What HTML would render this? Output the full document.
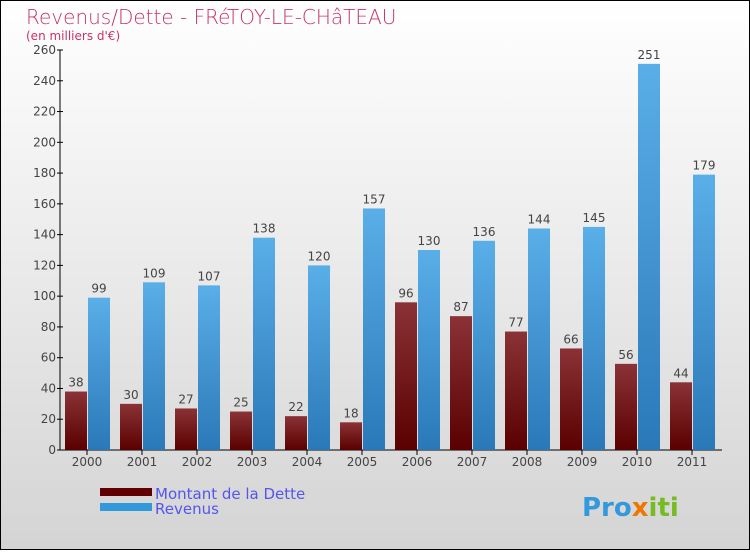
<!DOCTYPE html>
<html><head><meta charset="utf-8"><style>
body{margin:0}
#c{width:750px;height:550px;position:relative;font-family:"DejaVu Sans","Liberation Sans",sans-serif}
</style></head><body>
<div id="c">
<svg width="750" height="550">
<defs>
<linearGradient id="bg" x1="0" y1="0" x2="0" y2="1"><stop offset="0" stop-color="#ffffff"/><stop offset="1" stop-color="#d4d4d4"/></linearGradient>
<linearGradient id="gd" x1="0" y1="0" x2="0" y2="1"><stop offset="0" stop-color="#8a3236"/><stop offset="1" stop-color="#5a0000"/></linearGradient>
<linearGradient id="gr" x1="0" y1="0" x2="0" y2="1"><stop offset="0" stop-color="#5aafe8"/><stop offset="1" stop-color="#2a78b8"/></linearGradient>
</defs>
<rect x="0.5" y="0.5" width="749" height="549" fill="url(#bg)" stroke="#000"/>
<text x="26" y="24" font-size="20" fill="#c8336a" font-family="DejaVu Sans, sans-serif" font-weight="200">Revenus/Dette - FRéTOY-LE-CHâTEAU</text>
<text x="26" y="40" font-size="12" fill="#c8336a">(en milliers d'€)</text>
<g id="axes"></g>
<g id="bars"></g>
<rect x="100" y="488" width="52" height="8" fill="#600000"/>
<rect x="100" y="503" width="52" height="8" fill="#3399dd"/>
<text x="155" y="499" font-size="15" fill="#5555ee">Montant de la Dette</text>
<text x="155" y="514" font-size="15" fill="#5555ee">Revenus</text>
<text x="582" y="516" font-size="26" font-weight="bold" fill="#3399dd"><tspan fill="#3399dd">Pro</tspan><tspan fill="#ee7700">x</tspan><tspan fill="#77bb22">iti</tspan></text>
</svg>
</div>
<script>
const years=["2000","2001","2002","2003","2004","2005","2006","2007","2008","2009","2010","2011"];
const dette=[38,30,27,25,22,18,96,87,77,66,56,44];
const revenus=[99,109,107,138,120,157,130,136,144,145,251,179];
const ticks=[0,20,40,60,80,100,120,140,160,180,200,220,240,260];
const NS="http://www.w3.org/2000/svg";
const y0=450,y1=50,vmax=260;
function y(v){return y0-(v/vmax)*(y0-y1);}
function gx(i){return 65+55*i;}
function mk(t,a,p){const e=document.createElementNS(NS,t);for(const k in a)e.setAttribute(k,a[k]);p.appendChild(e);return e;}
const ax=document.getElementById('axes'),bg=document.getElementById('bars');
let l=mk('line',{x1:60,y1:y1,x2:60,y2:y0,stroke:'#000'},ax);


l=mk('line',{x1:60,y1:y0,x2:722,y2:y0,stroke:'#000'},ax);


ticks.forEach(t=>{
 const tk=mk('line',{x1:57,x2:63,y1:y(t),y2:y(t),stroke:'#000'},ax);
 
 
 const tx=mk('text',{x:56,y:y(t)+4,'text-anchor':'end','font-size':12,fill:'#444'},ax);
 tx.textContent=t;
 
 
});
years.forEach((yr,i)=>{
 const x=gx(i);
 const tk=mk('line',{x1:x+22,x2:x+22,y1:y0,y2:y0+5,stroke:'#000'},ax);
 
 
 const tx=mk('text',{x:x+22,y:466,'text-anchor':'middle','font-size':12,fill:'#444'},ax);
 tx.textContent=yr;
 
 
 const b1=mk('rect',{x:x,y:y(dette[i]),width:22,height:y0-y(dette[i]),fill:'url(#gd)'},bg);
 
 
 const b2=mk('rect',{x:x+23,y:y(revenus[i]),width:22,height:y0-y(revenus[i]),fill:'url(#gr)'},bg);
 
 
 const v1=mk('text',{x:x+11,y:y(dette[i])-5,'text-anchor':'middle','font-size':12,fill:'#444'},bg);
 v1.textContent=dette[i];
 
 
 const v2=mk('text',{x:x+34,y:y(revenus[i])-5,'text-anchor':'middle','font-size':12,fill:'#444'},bg);
 v2.textContent=revenus[i];
 
 
});
</script>
</body></html>
